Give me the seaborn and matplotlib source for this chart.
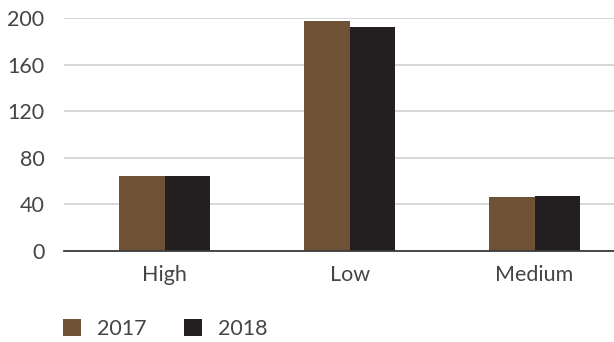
import matplotlib
matplotlib.use("Agg")
import matplotlib.pyplot as plt
import seaborn as sns
import pandas as pd
from matplotlib.patches import Patch

categories = ["High", "Low", "Medium"]
years = ["2017", "2018"]
values_2017 = [64, 197, 46]
values_2018 = [64, 192, 47]
colors = ["#6f5236", "#231f20"]

df = pd.DataFrame({
    "category": categories * 2,
    "year": [years[0]] * 3 + [years[1]] * 3,
    "value": values_2017 + values_2018,
})

sns.set_theme(style="white")
plt.rcParams["font.family"] = ["Lato", "DejaVu Sans"]

fig = plt.figure(figsize=(6.14, 3.42), dpi=100)
ax = fig.add_axes([64 / 614, 1 - 251 / 342, 1 - 64 / 614, (251 - 18) / 342])

sns.barplot(data=df, x="category", y="value", hue="year", palette=colors,
            width=0.492, saturation=1, ax=ax, legend=False, linewidth=0)

ax.set_ylim(0, 200)
ax.set_xlim(-0.546, 2.43)
ax.set_yticks([0, 40, 80, 120, 160, 200])
ax.yaxis.grid(True, color="#d4d4d4", linewidth=1.3)
ax.set_axisbelow(True)
for s in ["top", "right", "left"]:
    ax.spines[s].set_visible(False)
ax.spines["bottom"].set_color("#3a3a3a")
ax.spines["bottom"].set_linewidth(1.3)
ax.spines["bottom"].set_zorder(5)
ax.set_xlabel("")
ax.set_ylabel("")
ax.tick_params(axis="both", length=0, labelsize=15.5, colors="#454545")
ax.tick_params(axis="y", pad=14)
ax.tick_params(axis="x", pad=10)

handles = [Patch(facecolor=c, edgecolor="none", label=y) for c, y in zip(colors, years)]
fig.legend(handles=handles, loc="center left", bbox_to_anchor=(63 / 614, 1 - 329 / 342),
           ncol=2, frameon=False, fontsize=15.5, handlelength=0.85, handleheight=0.85,
           handletextpad=0.75, columnspacing=1.7, labelcolor="#454545",
           borderpad=0.0, borderaxespad=0.0)

fig.savefig("out.png", dpi=100)
